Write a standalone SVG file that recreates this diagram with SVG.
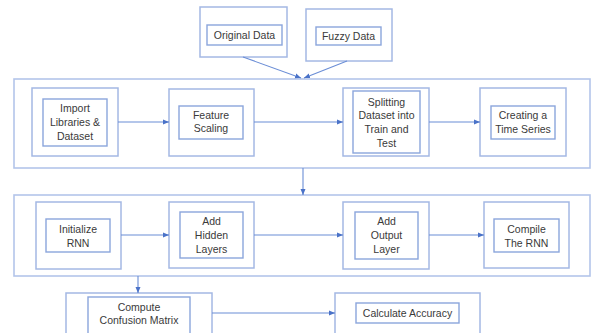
<svg xmlns="http://www.w3.org/2000/svg" width="591" height="333" viewBox="0 0 591 333">
<defs>
<marker id="ah" viewBox="0 0 6 6" refX="6" refY="3" markerWidth="6" markerHeight="6" markerUnits="userSpaceOnUse" orient="auto">
<path d="M0,0.5 L6,3 L0,5.5 Z" fill="#4a72c8"/>
</marker>
<style>
.bg{fill:#fff;stroke:#b3c5ea;stroke-width:1.6}
.o{fill:#fff;stroke:#a4b8e4;stroke-width:1.5}
.i{fill:#fff;stroke:#8ba5dc;stroke-width:1.4}
.t{font-family:"Liberation Sans",Arial,sans-serif;font-size:10.5px;fill:#3a3a3a;text-anchor:middle}
.c{fill:none;stroke:#6b8ed6;stroke-width:1.1}
</style>
</defs>
<rect width="591" height="333" fill="#fff"/>
<rect class="bg" x="14" y="79" width="576" height="89"/>
<rect class="bg" x="14" y="195" width="576" height="81"/>
<g id="n-original">
<rect class="o" x="200" y="7" width="87" height="50"/>
<rect class="i" x="207" y="25" width="75" height="20"/>
<text class="t" x="244.5" y="39">Original Data</text>
</g>
<g id="n-fuzzy">
<rect class="o" x="306" y="9" width="86" height="52"/>
<rect class="i" x="316" y="27" width="65" height="18"/>
<text class="t" x="348.5" y="40">Fuzzy Data</text>
</g>
<g id="n-import">
<rect class="o" x="32" y="88" width="86" height="68"/>
<rect class="i" x="43" y="99" width="64" height="47"/>
<text class="t" x="75" y="112">Import</text>
<text class="t" x="75" y="126">Libraries &amp;</text>
<text class="t" x="75" y="140">Dataset</text>
</g>
<g id="n-feature">
<rect class="o" x="169" y="89" width="85" height="67"/>
<rect class="i" x="179" y="106" width="64" height="33"/>
<text class="t" x="211" y="119">Feature</text>
<text class="t" x="211" y="132">Scaling</text>
</g>
<g id="n-splitting">
<rect class="o" x="343" y="88" width="86" height="68"/>
<rect class="i" x="353" y="91" width="67" height="62"/>
<text class="t" x="386.5" y="106">Splitting</text>
<text class="t" x="386.5" y="119">Dataset into</text>
<text class="t" x="386.5" y="133">Train and</text>
<text class="t" x="386.5" y="147">Test</text>
</g>
<g id="n-creating">
<rect class="o" x="480" y="88" width="86" height="68"/>
<rect class="i" x="491" y="106" width="64" height="33"/>
<text class="t" x="523" y="119">Creating a</text>
<text class="t" x="523" y="133">Time Series</text>
</g>
<g id="n-init">
<rect class="o" x="36" y="202" width="85" height="67"/>
<rect class="i" x="46" y="219" width="64" height="33"/>
<text class="t" x="78" y="233">Initialize</text>
<text class="t" x="78" y="247">RNN</text>
</g>
<g id="n-hidden">
<rect class="o" x="169" y="202" width="85" height="66"/>
<rect class="i" x="180" y="212" width="63" height="46"/>
<text class="t" x="211.5" y="225">Add</text>
<text class="t" x="211.5" y="239">Hidden</text>
<text class="t" x="211.5" y="253">Layers</text>
</g>
<g id="n-output">
<rect class="o" x="343" y="202" width="86" height="67"/>
<rect class="i" x="355" y="212" width="63" height="47"/>
<text class="t" x="386.5" y="225">Add</text>
<text class="t" x="386.5" y="239">Output</text>
<text class="t" x="386.5" y="253">Layer</text>
</g>
<g id="n-compile">
<rect class="o" x="484" y="202" width="85" height="66"/>
<rect class="i" x="494" y="219" width="65" height="33"/>
<text class="t" x="526.5" y="233">Compile</text>
<text class="t" x="526.5" y="247">The RNN</text>
</g>
<g id="n-confusion">
<rect class="o" x="66" y="293" width="146" height="45"/>
<rect class="i" x="88" y="297" width="102" height="40"/>
<text class="t" x="139" y="311">Compute</text>
<text class="t" x="139" y="324">Confusion Matrix</text>
</g>
<g id="n-accuracy">
<rect class="o" x="335" y="293" width="145" height="45"/>
<rect class="i" x="356" y="303" width="103" height="20"/>
<text class="t" x="407.5" y="317">Calculate Accuracy</text>
</g>
<g id="connectors">
<path class="c" d="M243,57 L301,78" marker-end="url(#ah)"/>
<path class="c" d="M347,61 L304,78" marker-end="url(#ah)"/>
<path class="c" d="M118,122 L169,122" marker-end="url(#ah)"/>
<path class="c" d="M254,122 L343,122" marker-end="url(#ah)"/>
<path class="c" d="M429,122 L480,122" marker-end="url(#ah)"/>
<path class="c" d="M303,168 L303,195" marker-end="url(#ah)"/>
<path class="c" d="M121,235 L169,235" marker-end="url(#ah)"/>
<path class="c" d="M254,235 L343,235" marker-end="url(#ah)"/>
<path class="c" d="M429,235 L484,235" marker-end="url(#ah)"/>
<path class="c" d="M138,276 L138,293" marker-end="url(#ah)"/>
<path class="c" d="M212,313 L335,313" marker-end="url(#ah)"/>
</g>
</svg>
